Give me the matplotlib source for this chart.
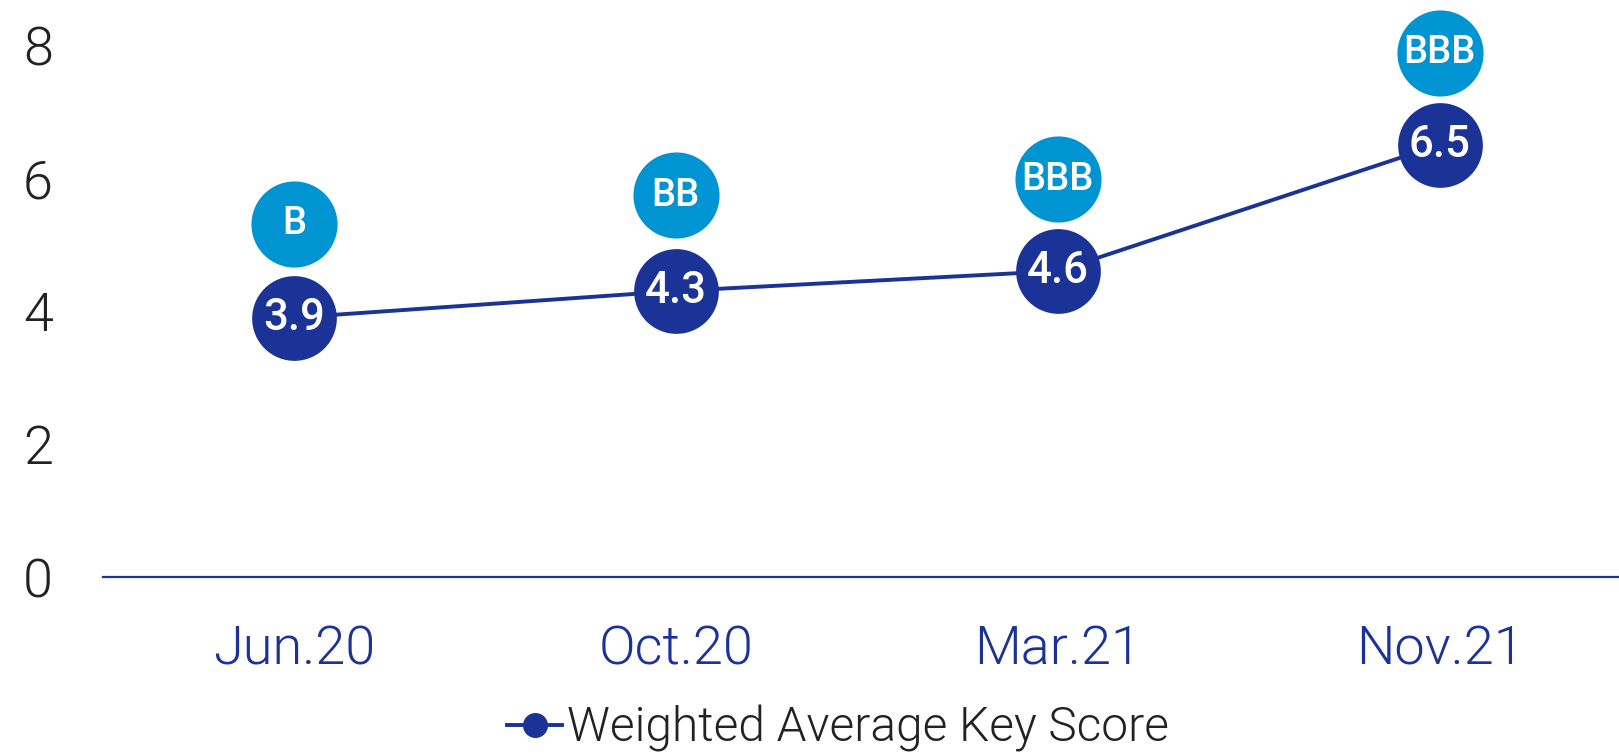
import matplotlib
matplotlib.use("Agg")
import matplotlib.pyplot as plt
from matplotlib.lines import Line2D

plt.rcParams['font.family'] = ['Roboto', 'DejaVu Sans']

# data
periods = ["Jun.20", "Oct.20", "Mar.21", "Nov.21"]
key_score = [3.9, 4.3, 4.6, 6.5]
ratings = ["B", "BB", "BBB", "BBB"]
rating_pos = [5.31, 5.74, 5.98, 7.88]   # where the rating bubbles sit on the y scale

dark_blue = "#1B3296"
light_blue = "#0094D2"

fig = plt.figure(figsize=(16.19, 7.56), dpi=100)
ax = fig.add_axes([0.0636, 0.2368, 0.9364, 0.7037])

x = list(range(len(periods)))

ax.plot(x, key_score, color=dark_blue, lw=2.8, zorder=2)
ax.plot(x, key_score, 'o', color=dark_blue, ms=61, mec='none', zorder=3, clip_on=False)
ax.plot(x, rating_pos, 'o', color=light_blue, ms=62, mec='none', zorder=3, clip_on=False)

for xi, v in zip(x, key_score):
    ax.text(xi, v, f"{v:.1f}", color="white", fontsize=31.5, fontweight=500,
            ha="center", va="center", zorder=4)
for xi, v, r in zip(x, rating_pos, ratings):
    ax.text(xi, v, r, color="white", fontsize=27.5, fontweight=500,
            ha="center", va="center", zorder=4, clip_on=False)

ax.set_xlim(-0.5, 3.47)
ax.set_ylim(0, 8)
ax.set_yticks([0, 2, 4, 6, 8])
ax.set_xticks(x)
ax.set_xticklabels(periods)

for s in ["top", "right", "left"]:
    ax.spines[s].set_visible(False)
ax.spines["bottom"].set_color(dark_blue)
ax.spines["bottom"].set_linewidth(1.6)

ax.tick_params(axis="y", length=0, pad=36, labelsize=39, labelcolor="#222222")
ax.tick_params(axis="x", length=0, pad=34, labelsize=39, labelcolor=dark_blue)
for lab in ax.get_xticklabels() + ax.get_yticklabels():
    lab.set_fontweight(300)

handle = Line2D([], [], color=dark_blue, lw=2.8, marker='o', ms=18, mec='none')
leg = fig.legend([handle], ["Weighted Average Key Score"], loc="center",
                 bbox_to_anchor=(0.5176, 0.036), frameon=False,
                 handlelength=1.15, handletextpad=0.1,
                 prop={"size": 34.5, "weight": 300})
for t in leg.get_texts():
    t.set_color("#222222")

fig.savefig("out.png", dpi=100)
